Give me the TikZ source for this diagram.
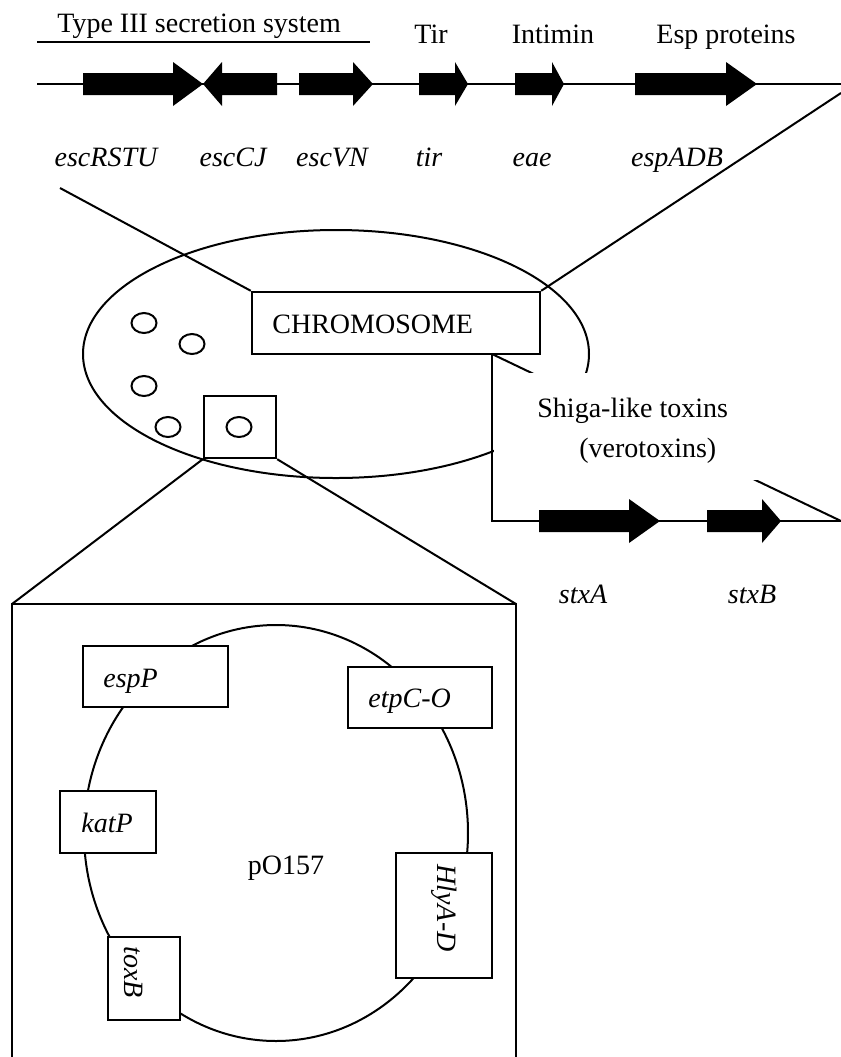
\documentclass[tikz,border=0pt]{standalone}
\usepackage{fontspec}
\setmainfont{Liberation Serif}
\usetikzlibrary{shapes.geometric}
\newcommand\genearrow[4]{\fill (#1,{#4-11}) -- (#2,{#4-11}) -- (#2,{#4-22}) -- (#3,#4) -- (#2,{#4+22}) -- (#2,{#4+11}) -- (#1,{#4+11}) -- cycle;}
\begin{document}
\begin{tikzpicture}[x=0.5pt,y=-0.5pt,
  txt/.style={inner sep=0pt, font=\fontsize{14}{17}\selectfont},
  gtxt/.style={inner sep=0pt, font=\fontsize{14}{17}\selectfont\itshape},
  ln/.style={line width=1pt},
  boxn/.style={draw, line width=1.2pt, fill=white, inner sep=0pt},
  cell/.style={draw, line width=1pt, ellipse, minimum width=12.5pt, minimum height=10pt, inner sep=0pt}]
\useasboundingbox (0,0) rectangle (841,1057);

% ---------- top gene map ----------
\coordinate (ul) at (37,42); \coordinate (ur) at (370,42);
\draw[ln] (ul) -- (ur);
\node[txt, anchor=base west] (t3ss) at (57,32) {Type III secretion system};
\node[txt, anchor=base] (tirp) at (431,43) {Tir};
\node[txt, anchor=base] (intp) at (553,43) {Intimin};
\node[txt, anchor=base] (espp) at (726,43) {Esp proteins};

\coordinate (tl) at (37,84); \coordinate (tr) at (841,84);
\draw[ln] (tl) -- (tr);
\genearrow{83}{173}{203}{84}
\genearrow{277}{222}{203}{84}
\genearrow{299}{353}{373}{84}
\genearrow{419}{455}{468}{84}
\genearrow{515}{552}{564}{84}
\genearrow{635}{726}{757}{84}

\node[gtxt, anchor=base] (g1) at (106,166) {escRSTU};
\node[gtxt, anchor=base] (g2) at (233,166) {escCJ};
\node[gtxt, anchor=base] (g3) at (332,166) {escVN};
\node[gtxt, anchor=base] (g4) at (429,166) {tir};
\node[gtxt, anchor=base] (g5) at (532,166) {eae};
\node[gtxt, anchor=base] (g6) at (677,166) {espADB};

% ---------- cell ----------
\draw[ln] (336,354) ellipse [x radius=253, y radius=124];
\node[cell] (c1) at (144,323) {};
\node[cell] (c2) at (192,344) {};
\node[cell] (c3) at (144,386) {};
\node[cell] (c4) at (168,427) {};

\node[boxn, minimum width=144pt, minimum height=31pt] (chrom) at (396,323) {};
\node[txt, anchor=base west] (chromt) at (272,333) {CHROMOSOME};

\coordinate (zl) at (60,188); \coordinate (zr) at (841,93);
\draw[ln] (zl) -- (chrom.north west);
\draw[ln] (zr) -- (chrom.north east);

\node[boxn, fill=none, minimum width=36pt, minimum height=31pt] (sq) at (240,427) {};
\node[cell] (c5) at (239,427) {};

% ---------- stx ----------
\coordinate (sj) at (492,354); \coordinate (sc) at (492,521); \coordinate (se) at (841,521);
\draw[ln] (sj) -- (se);
\fill[white] (494,373) rectangle (790,480);
\draw[ln] (sj) -- (sc) -- (se);
\node[txt, anchor=base west] (shiga1) at (537,417) {Shiga-like toxins};
\node[txt, anchor=base west] (shiga2) at (579,457) {(verotoxins)};
\genearrow{539}{629}{660}{521}
\genearrow{707}{762}{781}{521}
\node[gtxt, anchor=base] (sa) at (583,603) {stxA};
\node[gtxt, anchor=base] (sb) at (752,603) {stxB};

% ---------- plasmid ----------
\coordinate (pbl) at (12,604); \coordinate (pbr) at (516,604);
\coordinate (pbl2) at (12,1060); \coordinate (pbr2) at (516,1060);
\draw[ln] (sq.south west) -- (pbl);
\draw[ln] (sq.south east) -- (pbr);
\draw[line width=1.2pt] (pbl2) -- (pbl) -- (pbr) -- (pbr2);

\draw[ln] (276,833) ellipse [x radius=192, y radius=208];
\node[txt, anchor=base] (po) at (286,874) {pO157};

\node[boxn, minimum width=72.5pt, minimum height=30.5pt] (espPb) at (155.5,676.5) {};
\node[gtxt, anchor=base west] (espPt) at (103,687) {espP};
\node[boxn, minimum width=72pt, minimum height=30.5pt] (etpb) at (420,697.5) {};
\node[gtxt, anchor=base west] (etpt) at (368,707) {etpC-O};
\node[boxn, minimum width=48pt, minimum height=31pt] (katb) at (108,822) {};
\node[gtxt, anchor=base] (katt) at (107,832) {katP};
\node[boxn, minimum width=36pt, minimum height=41.5pt] (toxb) at (144,978.5) {};
\node[gtxt, anchor=base, rotate=-90] (toxt) at (125,972) {toxB};
\node[boxn, minimum width=48pt, minimum height=62.5pt] (hlyb) at (444,915.5) {};
\node[gtxt, anchor=base, rotate=-90] (hlyt) at (437,908) {HlyA-D};
\end{tikzpicture}
\end{document}
